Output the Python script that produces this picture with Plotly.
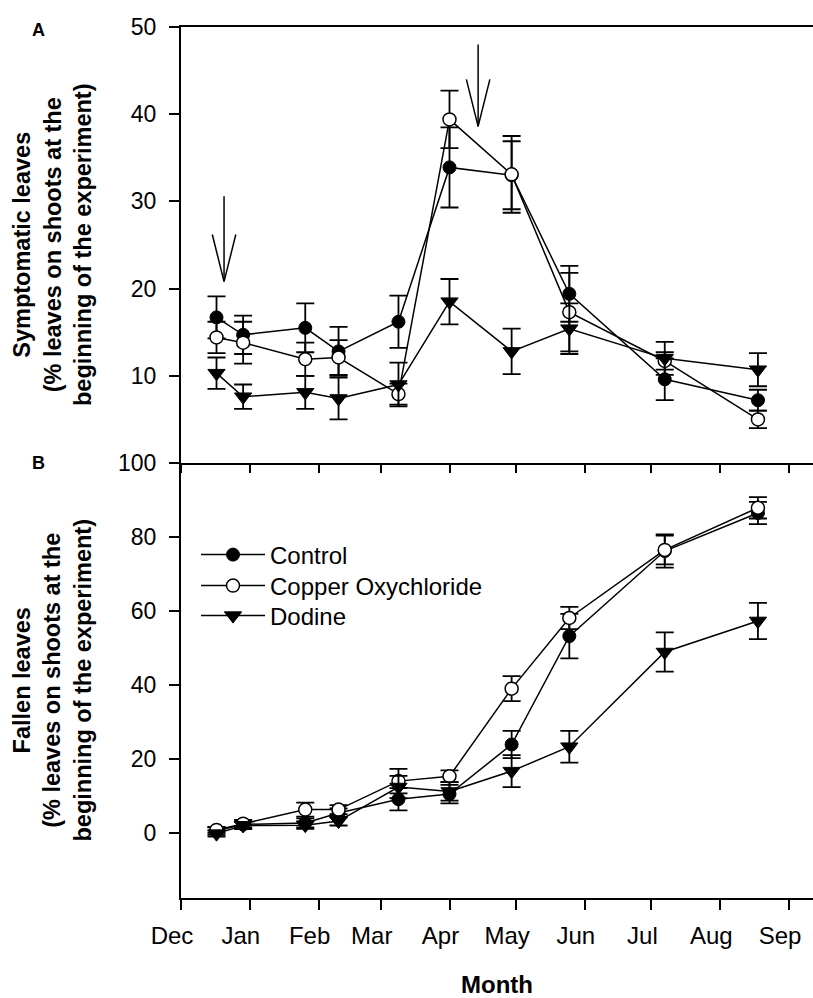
import plotly.graph_objects as go

# ---------------- data ----------------
# sampling days (days since 1 December)
days = [16, 28, 56, 71, 98, 121, 149, 175, 218, 260]

# Panel A: symptomatic leaves (%)
sym_control = [16.7, 14.7, 15.5, 12.8, 16.2, 33.9, 33.0, 19.4, 9.6, 7.2]
sym_control_err = [2.4, 2.2, 2.8, 2.8, 3.0, 4.6, 3.9, 3.2, 2.4, 1.2]
sym_copper = [14.4, 13.8, 11.9, 12.1, 7.9, 39.4, 33.1, 17.3, 11.7, 5.0]
sym_copper_err = [1.8, 2.4, 1.9, 2.0, 1.2, 3.3, 4.4, 4.5, 1.0, 1.0]
sym_dodine = [10.3, 7.6, 8.1, 7.4, 9.0, 18.5, 12.8, 15.4, 12.0, 10.7]
sym_dodine_err = [1.8, 1.4, 1.9, 2.4, 2.5, 2.6, 2.6, 2.9, 1.9, 1.9]

# Panel B: fallen leaves (%)
fal_control = [0.5, 2.3, 2.7, 5.4, 9.1, 10.5, 23.9, 53.2, 76.2, 86.5]
fal_control_err = [1.0, 1.0, 1.2, 1.2, 3.0, 2.5, 3.7, 6.0, 4.5, 3.0]
fal_copper = [0.8, 2.5, 6.3, 6.3, 14.0, 15.3, 39.0, 58.1, 76.5, 87.9]
fal_copper_err = [0.8, 1.0, 1.9, 1.2, 3.3, 1.6, 3.4, 3.0, 3.9, 2.9]
fal_dodine = [-0.2, 2.0, 2.1, 3.2, 12.4, 11.2, 16.7, 23.3, 48.9, 57.3]
fal_dodine_err = [0.8, 1.0, 1.0, 1.2, 3.0, 2.5, 4.3, 4.3, 5.3, 4.9]

# month ticks (days since 1 December)
month_days = [0, 31, 62, 90, 121, 151, 182, 212, 243, 274]
month_labels = ["Dec", "Jan", "Feb", "Mar", "Apr", "May", "Jun", "Jul", "Aug", "Sep"]

# fungicide applications (arrows in panel A): day, arrow top, arrow tip
spray_days = [19.4, 133.9]
spray_top = [30.6, 48.0]
spray_tip = [20.8, 38.6]

series = ["Control", "Copper Oxychloride", "Dodine"]

# ---------------- figure ----------------
FONT = "Liberation Sans, Arial, sans-serif"
W, H = 813, 998
ML, MR, MT, MB = 181, 0, 27, 100
plot_h = H - MT - MB
plot_w = W - ML - MR
split = (898 - 463) / plot_h

fig = go.Figure()

styles = {
    "Control": dict(symbol="circle", size=13, color="black", line=dict(color="black", width=1)),
    "Copper Oxychloride": dict(symbol="circle", size=13, color="white", line=dict(color="black", width=1.5)),
    "Dodine": dict(symbol="triangle-down", size=15, color="black", line=dict(color="black", width=1)),
}

panelA = {"Control": (sym_control, sym_control_err),
          "Copper Oxychloride": (sym_copper, sym_copper_err),
          "Dodine": (sym_dodine, sym_dodine_err)}
panelB = {"Control": (fal_control, fal_control_err),
          "Copper Oxychloride": (fal_copper, fal_copper_err),
          "Dodine": (fal_dodine, fal_dodine_err)}
legend_ids = {"Control": "legend", "Copper Oxychloride": "legend2", "Dodine": "legend3"}

# spray arrows (open V heads) drawn as line traces in panel A
arrow_x, arrow_y = [], []
for d, top, tip in zip(spray_days, spray_top, spray_tip):
    arrow_x += [d, d, None, d - 5.3, d, d + 5.3, None]
    arrow_y += [top, tip, None, tip + 5.4, tip, tip + 5.4, None]
fig.add_trace(go.Scatter(x=arrow_x, y=arrow_y, mode="lines", showlegend=False,
                         xaxis="x", yaxis="y", line=dict(color="black", width=1.5),
                         hoverinfo="skip"))

for name in series:
    vals, errs = panelA[name]
    fig.add_trace(go.Scatter(
        x=days, y=vals, mode="lines+markers", name=name, showlegend=False,
        xaxis="x", yaxis="y",
        line=dict(color="black", width=1.5),
        marker=styles[name],
        error_y=dict(type="data", array=errs, visible=True, color="black", thickness=1.8, width=9),
    ))
for name in series:
    vals, errs = panelB[name]
    fig.add_trace(go.Scatter(
        x=days, y=vals, mode="lines+markers", name=name, showlegend=True,
        legend=legend_ids[name],
        xaxis="x2", yaxis="y2",
        line=dict(color="black", width=1.5),
        marker=styles[name],
        error_y=dict(type="data", array=errs, visible=True, color="black", thickness=1.8, width=9),
    ))

xmax = plot_w / 2.219
axis_common = dict(showgrid=False, zeroline=False, showline=True, linecolor="black", linewidth=2,
                   ticks="outside", tickcolor="black", tickwidth=2)

leg_common = dict(xanchor="left", yanchor="middle", bgcolor="rgba(0,0,0,0)",
                  font=dict(size=24, family=FONT), itemwidth=64, borderwidth=0)
leg_x = (196 - ML) / plot_w
leg_rows = [555, 586, 616]

fig.update_layout(
    width=W, height=H,
    margin=dict(l=ML, r=MR, t=MT, b=MB),
    paper_bgcolor="white", plot_bgcolor="white",
    font=dict(family=FONT, color="black"),
    xaxis=dict(domain=[0, 1], range=[0, xmax], anchor="y", mirror=True,
               tickvals=month_days, ticktext=month_labels, showticklabels=False,
               ticklen=8, **axis_common),
    yaxis=dict(domain=[split, 1], range=[0, 50], anchor="x",
               tickvals=[10, 20, 30, 40, 50], ticklen=10,
               tickfont=dict(size=23, family=FONT), ticklabelstandoff=8, **axis_common),
    xaxis2=dict(domain=[0, 1], range=[0, xmax], anchor="y2",
                tickvals=month_days, ticktext=month_labels, ticklen=10,
                tickfont=dict(size=24, family=FONT), ticklabelshift=-9, ticklabelstandoff=5,
                title=dict(text="<b>Month</b>", font=dict(size=24, family=FONT), standoff=29),
                **axis_common),
    yaxis2=dict(domain=[0, split], range=[-17.6, 100], anchor="x2",
                tickvals=[0, 20, 40, 60, 80, 100], ticklen=10,
                tickfont=dict(size=23, family=FONT), ticklabelstandoff=8, **axis_common),
    legend=dict(x=leg_x, y=(H - MB - leg_rows[0]) / plot_h, **leg_common),
    legend2=dict(x=leg_x, y=(H - MB - leg_rows[1]) / plot_h, **leg_common),
    legend3=dict(x=leg_x, y=(H - MB - leg_rows[2]) / plot_h, **leg_common),
)

# keep the right side of panel A open (the original figure is cropped there)
fig.add_shape(type="rect", xref="paper", yref="paper", layer="above",
              x0=(803 - ML) / plot_w, x1=1.02,
              y0=(H - MB - 460) / plot_h, y1=(H - MB - 30) / plot_h,
              fillcolor="white", line=dict(width=0))

# y-axis titles
ytitle_x = (52 - ML) / plot_w
fig.add_annotation(text="<b>Symptomatic leaves<br>(% leaves on shoots at the<br>beginning of the experiment)</b>",
                   xref="paper", yref="paper", x=ytitle_x, y=(split + 1) / 2, textangle=-90,
                   showarrow=False, font=dict(size=23.5, family=FONT), xanchor="center", yanchor="middle")
fig.add_annotation(text="<b>Fallen leaves<br>(% leaves on shoots at the<br>beginning of the experiment)</b>",
                   xref="paper", yref="paper", x=ytitle_x, y=split / 2, textangle=-90,
                   showarrow=False, font=dict(size=23.5, family=FONT), xanchor="center", yanchor="middle")

# panel letters
fig.add_annotation(text="<b>A</b>", xref="paper", yref="paper", x=(38 - ML) / plot_w,
                   y=1 - (30 - MT) / plot_h, showarrow=False, font=dict(size=18, family=FONT),
                   xanchor="center", yanchor="middle")
fig.add_annotation(text="<b>B</b>", xref="paper", yref="paper", x=(38 - ML) / plot_w,
                   y=(H - MB - 463) / plot_h, showarrow=False, font=dict(size=18, family=FONT),
                   xanchor="center", yanchor="middle")

fig.write_html(
    "out.html",
    config={"displayModeBar": False},
    post_script=("document.body.style.margin='0px';"
                 "document.body.style.overflow='hidden';"
                 "document.documentElement.style.overflow='hidden';"),
)
